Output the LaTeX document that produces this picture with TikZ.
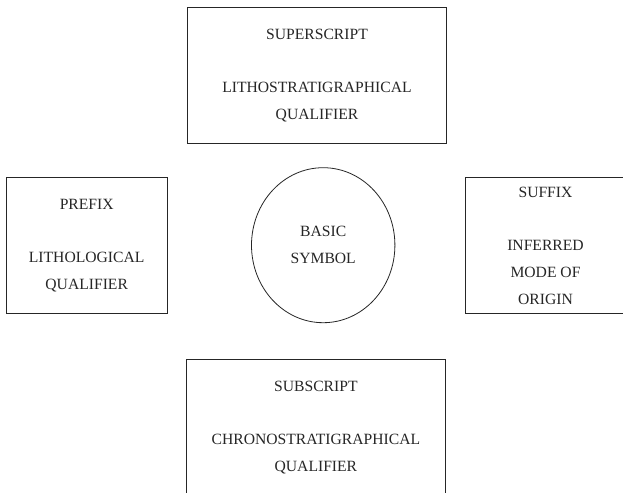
\documentclass[tikz,border=0pt]{standalone}
\usepackage{fontspec}
\setmainfont{Liberation Serif}
\usetikzlibrary{shapes.geometric}
\begin{document}
\begin{tikzpicture}[x=1bp,y=-1bp,
  txt/.style={align=center, font=\fontsize{15.7pt}{26.8pt}\selectfont, text=black!85},
  box/.style={txt, draw=black!85, line width=0.8bp, rectangle, inner sep=0pt,
    minimum width=#1, minimum height=136bp},
  oval/.style={txt, draw=black!85, line width=0.8bp, ellipse, inner sep=0pt,
    minimum width=143.4bp, minimum height=155bp}]
  \useasboundingbox (0,0) rectangle (623,493);
  \clip (0,0) rectangle (623,493);
  \fill[white] (0,0) rectangle (623,493);

  % upper box: superscript
  \node[box=259bp] (super) at (317,75.3)
    {SUPERSCRIPT\\[26.8pt]LITHOSTRATIGRAPHICAL\\QUALIFIER};
  % left box: prefix
  \node[box=161.3bp] (prefix) at (86.7,245.5)
    {PREFIX\\[26.8pt]LITHOLOGICAL\\QUALIFIER};
  % central oval
  \node[oval] (basic) at (323.2,245.2) {BASIC\\SYMBOL};
  % right box: suffix, running off the right edge
  \node[box=176bp] (suffix) at (553.5,245.5) {};
  \node[txt, inner sep=0pt] (suffixtext) at (545.5,245.5)
    {SUFFIX\\[26.8pt]INFERRED\\MODE OF\\ORIGIN};
  % lower box: subscript
  \node[box=259bp] (sub) at (315.9,427.3)
    {SUBSCRIPT\\[26.8pt]CHRONOSTRATIGRAPHICAL\\QUALIFIER};
\end{tikzpicture}
\end{document}
